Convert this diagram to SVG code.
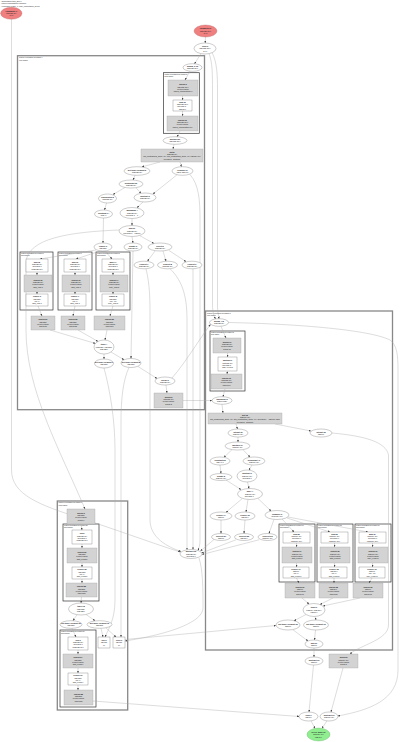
<svg xmlns="http://www.w3.org/2000/svg" width="400" height="742" viewBox="0 0 400 742">
<defs>
<marker id="a" markerUnits="userSpaceOnUse" markerWidth="2.4" markerHeight="2" refX="2.2" refY="1" orient="auto"><path d="M0,0 L2.4,1 L0,2 z" fill="#444"/></marker>
</defs>
<style>
text{font-family:"Liberation Sans",Arial,sans-serif;font-size:2px;fill:#222;text-anchor:middle}
.l{text-anchor:start;font-size:1.8px}
.s{font-size:1.7px}
.b{font-weight:bold}
.n{fill:#fff;stroke:#555;stroke-width:0.3}
.p{fill:#f08080;stroke:#a55;stroke-width:0.3}
.r{fill:#90ee90;stroke:#5a5;stroke-width:0.3}
.g{fill:#d3d3d3;stroke:#999;stroke-width:0.3}
.o{fill:none;stroke:#888;stroke-width:1.3}
.i{fill:none;stroke:#333;stroke-width:0.7}
.e path{fill:none;stroke:#aaa;stroke-width:0.4;marker-end:url(#a)}
</style>
<rect width="400" height="742" fill="#fff"/>
<g id="header">
<text class="l" x="1.5" y="2.2">Computation train_step.1</text>
<text class="l" x="1.5" y="4.4">Fused computations expanded</text>
<text class="l" x="1.5" y="6.6">HloModule cluster_0, entry_computation_layout</text>
</g>
<g id="clusters">
<g id="cluster_fusion4"><rect class="o" x="17.5" y="55.7" width="187" height="354"/><text class="l" x="19" y="58.4">Fused expression for fusion.4</text><text class="l" x="19" y="60.6">loop fusion</text></g>
<g id="cluster_reduce2"><rect class="i" x="163.5" y="72.7" width="35.8" height="60.6"/><text class="l s" x="164.5" y="75.2">Fused expression for reduce.2</text><text class="l s" x="164.5" y="77.3">input fusion</text></g>
<g id="cluster_reduce6"><rect class="i" x="20" y="252" width="33" height="58"/><text class="l s" x="21" y="254.3">Fused expression for reduce.6</text><text class="l s" x="21" y="256.4">input fusion</text></g>
<g id="cluster_reduce7"><rect class="i" x="58" y="252" width="34" height="58"/><text class="l s" x="59" y="254.3">Fused expression for reduce.7</text><text class="l s" x="59" y="256.4">input fusion</text></g>
<g id="cluster_reduce8"><rect class="i" x="96" y="252" width="34" height="58"/><text class="l s" x="97" y="254.3">Fused expression for reduce.8</text><text class="l s" x="97" y="256.4">input fusion</text></g>
<g id="cluster_fusion3"><rect class="o" x="205.5" y="311" width="187" height="339"/><text class="l" x="207" y="313.8">Fused expression for fusion.3</text><text class="l" x="207" y="316.1">loop fusion</text></g>
<g id="cluster_fusion11"><rect class="i" x="210" y="331" width="35" height="60"/><text class="l s" x="211" y="333.3">Fused expression for fusion.11</text><text class="l s" x="211" y="335.4">loop fusion</text></g>
<g id="cluster_reduce17"><rect class="i" x="279" y="524" width="36" height="58"/><text class="l s" x="280" y="526.3">Fused expression for reduce.17</text><text class="l s" x="280" y="528.4">input fusion</text></g>
<g id="cluster_reduce18"><rect class="i" x="317" y="524" width="36" height="58"/><text class="l s" x="318" y="526.3">Fused expression for reduce.18</text><text class="l s" x="318" y="528.4">input fusion</text></g>
<g id="cluster_reduce19"><rect class="i" x="355" y="524" width="36" height="58"/><text class="l s" x="356" y="526.3">Fused expression for reduce.19</text><text class="l s" x="356" y="528.4">input fusion</text></g>
<g id="cluster_fusion6"><rect class="o" x="57.3" y="501" width="70.4" height="209"/><text class="l" x="58.5" y="503.4">Fused expression for fusion.6</text><text class="l" x="58.5" y="505.6">loop fusion</text></g>
<g id="cluster_reduce20"><rect class="i" x="63" y="524" width="36" height="77"/><text class="l s" x="64" y="526.3">Fused expression for reduce.20</text><text class="l s" x="64" y="528.4">input fusion</text></g>
<g id="cluster_reduce24"><rect class="i" x="60" y="630" width="36" height="77"/><text class="l s" x="61" y="632.3">Fused expression for reduce.24</text><text class="l s" x="61" y="634.4">input fusion</text></g>
</g>
<g id="edges" class="e">
<path d="M205.5,37 L205.2,43"/>
<path d="M201,53.6 L194.5,63.8"/>
<path d="M209,53.5 C212.5,62 212.5,75 212.5,90 L212.5,305 C212.5,312 214,316 215.5,318.9"/>
<path d="M212,52.5 C217,62 217.5,75 217.5,90 L217.5,305 C217.5,312 218.5,315 219,318.7"/>
<path d="M190,71.2 L185,80"/>
<path d="M182.5,96 L182.5,100"/>
<path d="M182.5,111 L182.5,116"/>
<path d="M180,131 L177,136.8"/>
<path d="M174,144.3 L173,149"/>
<path d="M160,162 L142,166.9"/>
<path d="M180,162 L181.5,166.7"/>
<path d="M135,175.3 L133,180"/>
<path d="M125,187.5 L113,194.5"/>
<path d="M136,187.8 L141,193.3"/>
<path d="M177,174.8 L153,194"/>
<path d="M106.5,203 L104.5,210"/>
<path d="M143,202 L137,207.7"/>
<path d="M132,218.5 L132,225.5"/>
<path d="M103.5,218 L103,243"/>
<path d="M96,250 L40,259"/>
<path d="M100,251 L76,259"/>
<path d="M105,251 L112,259"/>
<path d="M132,236.5 L133,243"/>
<path d="M140,235.8 L154,243.5"/>
<path d="M133,251 L131,358.5"/>
<path d="M155,251 L147.5,261.2"/>
<path d="M163,251 L166,261.2"/>
<path d="M169,250.5 L186,261.6"/>
<path d="M37,272 L37,275"/><path d="M37,292 L37,294"/>
<path d="M75,272 L75,275"/><path d="M75,292 L75,294"/>
<path d="M113,272 L113,275"/><path d="M113,292 L113,294"/>
<path d="M38,306 L42,316"/>
<path d="M75,306 L73,316"/>
<path d="M113,306 L110,316"/>
<path d="M50,330 L95.5,343.5"/>
<path d="M78,330 L98,341.5"/>
<path d="M107,330 L105,340"/>
<path d="M104,354 L104,359"/>
<path d="M111,352 L124,359.8"/>
<path d="M138,366.5 L157,378.5"/>
<path d="M166,385 L167,393"/>
<path d="M183,400.5 L212,400.5"/>
<path d="M172,378 C186,362 200,338 210.5,324.5"/>
<path d="M146,268.8 C150,285 150,300 150,320 L150,520 C150,538 168,547 181,551.5"/>
<path d="M170,268.8 C184,282 187,300 187,320 L187,549.7"/>
<path d="M193,268.8 C193,285 193,300 193,320 L193,549.6"/>
<path d="M190,174.5 C199,185 200,200 200,220 L200,540 C200,545 199,548 198,550.5"/>
<path d="M119,230 C70,232 28,238 26,262 L26,330 C26,390 60,450 85,509"/>
<path d="M11.5,19.3 L11.5,470 C11.5,495 40,505 80,518 C120,531 155,544 180.3,552"/>
<path d="M199,558 C203,570 203,590 203,608 C203,622 170,634 125,641"/>
<path d="M104,368 C110,390 115,420 115,450 L115,600 C115,620 108,630 105,637"/>
<path d="M129,367.5 C123,380 121,400 121,420 L121,637"/>
<path d="M81,524 L82,530"/>
<path d="M82,544 L82,548"/>
<path d="M82,563 L82,567"/>
<path d="M82,579 L82,583"/>
<path d="M81.5,597 L81,603"/>
<path d="M77,614.7 L73,620.7"/>
<path d="M86,614.5 L95,620.7"/>
<path d="M72,628.3 L76,637"/>
<path d="M78,650 L78,654"/>
<path d="M78,668 L78,673"/>
<path d="M78,685 L78,690"/>
<path d="M101,628.3 L103,637"/>
<path d="M106,628 L116,637"/>
<path d="M93,701 L299.2,716.5"/>
<path d="M125,639.5 L276,625.5"/>
<path d="M221,326.3 L226,338"/>
<path d="M227.5,353 L227.5,357"/>
<path d="M227.5,371 L227,374"/>
<path d="M225,389 L223,396.7"/>
<path d="M222,404.3 L223,413"/>
<path d="M236,424 L237.5,429"/>
<path d="M275,424 L311,431"/>
<path d="M238,437 L238,442"/>
<path d="M232,449.7 L224,457.2"/>
<path d="M243,449.7 L250,457.1"/>
<path d="M220,465 L221,473.5"/>
<path d="M252,465 L249,470.2"/>
<path d="M226,480 L241,489.6"/>
<path d="M247.5,482 L249,488.5"/>
<path d="M242,498.8 L226,512.3"/>
<path d="M248,499.5 L246,512"/>
<path d="M258,498.5 L271,511"/>
<path d="M221,520 L221,533.5"/>
<path d="M245,520 L244,533.5"/>
<path d="M274,519.3 L269,533.5"/>
<path d="M282,519 L294,532"/>
<path d="M287,518 L330,532"/>
<path d="M288,517 L368,532"/>
<path d="M214,539.5 L200.5,551"/>
<path d="M236,539.8 L201.5,553"/>
<path d="M259,539.8 L202,554.5"/>
<path d="M296.5,543 L296.5,547"/><path d="M296.5,563 L296.5,567"/><path d="M296.5,578 L299,583"/>
<path d="M334.5,543 L334.5,547"/><path d="M334.5,563 L334.5,567"/><path d="M334,578 L334,583"/>
<path d="M372.5,543 L372.5,547"/><path d="M372.5,563 L372.5,567"/><path d="M372,578 L369,583"/>
<path d="M302,598 L309,604"/>
<path d="M333,598 L320,604.5"/>
<path d="M360,598 L323,606"/>
<path d="M306,614.5 L294,620.8"/>
<path d="M315,616.5 L316,620"/>
<path d="M293,629.8 L308,641"/>
<path d="M315.5,630 L314.5,640"/>
<path d="M314,648 L314,657"/>
<path d="M313.5,665 L309,712"/>
<path d="M343,668 L331,712"/>
<path d="M311,720.8 L315,728.5"/>
<path d="M327,720.8 L322,728.3"/>
<path d="M228.5,322.5 C300,324 370,330 390,340 C397,345 398,355 398,370 L398,670 C398,700 370,710 337.8,716"/>
<path d="M332,433 C365,436 386,442 388.5,455 L388.5,625 C388.5,640 360,645 350,654"/>
</g>
<g id="nodes">
<g id="p0"><ellipse class="p" cx="11.3" cy="13.3" rx="10.7" ry="6"/><text class="b" x="11.3" y="11.6">Parameter 1</text><text x="11.3" y="14">f32[128,10]</text><text x="11.3" y="16.4">{1,0}</text></g>
<g id="p1"><ellipse class="p" cx="205.5" cy="31" rx="11.5" ry="6"/><text class="b" x="205.5" y="29.3">Parameter 0</text><text x="205.5" y="31.7">f32[128,784]</text><text x="205.5" y="34.1">{1,0}</text></g>
<g id="n1"><ellipse class="n" cx="205" cy="48.5" rx="11" ry="5.5"/><text class="b" x="205" y="46.8">copy.3</text><text x="205" y="49.2">f32[128,784]</text><text x="205" y="51.6">{1,0}</text></g>
<g id="n2"><ellipse class="n" cx="192.5" cy="67.5" rx="9.5" ry="3.8"/><text class="b" x="192.5" y="67">param_0.12</text><text x="192.5" y="69.4">f32[128,784]</text></g>
<g id="g1"><rect class="g" x="168" y="80" width="30" height="16"/><text class="b" x="183" y="85.2">fusion.9</text><text x="183" y="87.5">f32[128,784]</text><text x="183" y="89.8">kLoop fusion</text><text x="183" y="92.1">fused_computation.9</text></g>
<g id="w1"><rect class="n" x="173" y="100" width="19" height="11"/><text class="b" x="182.5" y="102.7">add.15</text><text x="182.5" y="105">f32[128,784]</text><text x="182.5" y="107.3">operand 1 =</text><text x="182.5" y="109.6">f32[784]</text></g>
<g id="g2"><rect class="g" x="167" y="116" width="31" height="15"/><text class="b" x="182.5" y="120.7">fusion.10</text><text x="182.5" y="123">f32[128,784]</text><text x="182.5" y="125.3">kLoop fusion</text><text x="182.5" y="127.6">fused_computation.10</text></g>
<g id="n3"><ellipse class="n" cx="175" cy="140.5" rx="12" ry="3.8"/><text class="b" x="175" y="140">multiply.21</text><text x="175" y="142.4">f32[128,784]</text></g>
<g id="g3"><rect class="g" x="141" y="149" width="62" height="13"/><text class="b" x="172" y="152.7">dot.8</text><text x="172" y="155">f32[128,10]</text><text x="172" y="157.3">lhs_contracting_dims={1}, rhs_contracting_dims={0}, f32[784,10]</text><text x="172" y="159.6">precision={default}</text></g>
<g id="n4"><ellipse class="n" cx="137" cy="171" rx="13" ry="4.3"/><text class="b" x="137" y="170.5">get-tuple-element.5</text><text x="137" y="172.9">f32[128,10]</text></g>
<g id="n5"><ellipse class="n" cx="182.5" cy="171" rx="10.5" ry="4.3"/><text class="b" x="182.5" y="170.5">reshape.11</text><text x="182.5" y="172.9">f32[1,128,10]</text></g>
<g id="n6"><ellipse class="n" cx="131" cy="184" rx="12" ry="4"/><text class="b" x="131" y="183.5">broadcast.30</text><text x="131" y="185.9">f32[128,10]</text></g>
<g id="n7"><ellipse class="n" cx="107.5" cy="198.5" rx="9" ry="4.5"/><text class="b" x="107.5" y="198">exponential.2</text><text x="107.5" y="200.4">f32[128,10]</text></g>
<g id="n8"><ellipse class="n" cx="145" cy="197.5" rx="11" ry="4.5"/><text class="b" x="145" y="197">subtract.6</text><text x="145" y="199.4">f32[128,10]</text></g>
<g id="n9"><ellipse class="n" cx="103.5" cy="214" rx="9" ry="4"/><text class="b" x="103.5" y="213.5">constant.14</text><text x="103.5" y="215.9">f32[] 0</text></g>
<g id="n10"><ellipse class="n" cx="132" cy="213" rx="12" ry="5.5"/><text class="b" x="132" y="211.3">maximum.4</text><text x="132" y="213.7">f32[128,10]</text><text x="132" y="216.1">operand 1 = 0</text></g>
<g id="n11"><ellipse class="n" cx="132" cy="231" rx="13" ry="5.5"/><text class="b" x="132" y="229.3">add.31</text><text x="132" y="231.7">f32[128,10]</text><text x="132" y="234.1">operand 1 = f32[10]</text></g>
<g id="n12"><ellipse class="n" cx="103" cy="247" rx="9" ry="4"/><text class="b" x="103" y="246.5">reduce.9</text><text x="103" y="248.9">f32[128]</text></g>
<g id="n13"><ellipse class="n" cx="133" cy="247" rx="9" ry="4"/><text class="b" x="133" y="246.5">negate.3</text><text x="133" y="248.9">f32[128,10]</text></g>
<g id="n14"><ellipse class="n" cx="160" cy="247" rx="12" ry="4"/><text class="b" x="160" y="246.5">select.2</text><text x="160" y="248.9">f32[128,10]</text></g>
<g id="n15"><ellipse class="n" cx="144" cy="265" rx="10" ry="3.8"/><text class="b" x="144" y="264.5">convert.7</text><text x="144" y="266.9">f32[128,10]</text></g>
<g id="n16"><ellipse class="n" cx="167.5" cy="265" rx="10" ry="3.8"/><text class="b" x="167.5" y="264.5">convert.8</text><text x="167.5" y="266.9">f32[128,10]</text></g>
<g id="n17"><ellipse class="n" cx="192" cy="265" rx="10" ry="3.8"/><text class="b" x="192" y="264.5">convert.9</text><text x="192" y="266.9">f32[128,10]</text></g>
<g id="w6a"><rect class="n" x="26" y="259" width="22" height="13"/><text class="b" x="37" y="262.7">add.12</text><text x="37" y="265">f32[128,10]</text><text x="37" y="267.3">operand 0</text><text x="37" y="269.6">(f32[128,10])</text></g>
<g id="g6a"><rect class="g" x="24" y="275" width="28" height="17"/><text class="b" x="38" y="280.7">fusion.12</text><text x="38" y="283">f32[128,10]</text><text x="38" y="285.3">kInput fusion</text><text x="38" y="287.6">add_F32.6</text></g>
<g id="w6b"><rect class="n" x="26" y="294" width="22" height="12"/><text class="b" x="37" y="297.2">reduce.6</text><text x="37" y="299.5">f32[128]</text><text x="37" y="301.8">init: 0</text><text x="37" y="304.1">add_F32.6</text></g>
<g id="w7a"><rect class="n" x="64" y="259" width="22" height="13"/><text class="b" x="75" y="262.7">add.13</text><text x="75" y="265">f32[128,10]</text><text x="75" y="267.3">operand 0</text><text x="75" y="269.6">(f32[128,10])</text></g>
<g id="g7a"><rect class="g" x="62" y="275" width="28" height="17"/><text class="b" x="76" y="280.7">fusion.13</text><text x="76" y="283">f32[128,10]</text><text x="76" y="285.3">kInput fusion</text><text x="76" y="287.6">add_F32.7</text></g>
<g id="w7b"><rect class="n" x="64" y="294" width="22" height="12"/><text class="b" x="75" y="297.2">reduce.7</text><text x="75" y="299.5">f32[128]</text><text x="75" y="301.8">init: 0</text><text x="75" y="304.1">add_F32.7</text></g>
<g id="w8a"><rect class="n" x="102" y="259" width="22" height="13"/><text class="b" x="113" y="262.7">max.14</text><text x="113" y="265">f32[128,10]</text><text x="113" y="267.3">operand 0</text><text x="113" y="269.6">(f32[128,10])</text></g>
<g id="g8a"><rect class="g" x="100" y="275" width="28" height="17"/><text class="b" x="114" y="280.7">fusion.14</text><text x="114" y="283">f32[128,10]</text><text x="114" y="285.3">kInput fusion</text><text x="114" y="287.6">max_F32.8</text></g>
<g id="w8b"><rect class="n" x="102" y="294" width="22" height="12"/><text class="b" x="113" y="297.2">reduce.8</text><text x="113" y="299.5">f32[128]</text><text x="113" y="301.8">init: -inf</text><text x="113" y="304.1">max_F32.8</text></g>
<g id="g4"><rect class="g" x="31" y="316" width="24" height="14"/><text class="b" x="43" y="320.2">fusion.21</text><text x="43" y="322.5">f32[128]</text><text x="43" y="324.8">kLoop fusion</text><text x="43" y="327.1">fused.21</text></g>
<g id="g5"><rect class="g" x="61" y="316" width="24" height="14"/><text class="b" x="73" y="320.2">fusion.22</text><text x="73" y="322.5">f32[128]</text><text x="73" y="324.8">kLoop fusion</text><text x="73" y="327.1">fused.22</text></g>
<g id="g6"><rect class="g" x="94" y="316" width="31" height="14"/><text class="b" x="109.5" y="320.2">fusion.23</text><text x="109.5" y="322.5">f32[128]</text><text x="109.5" y="324.8">kLoop fusion</text><text x="109.5" y="327.1">fused.23</text></g>
<g id="n18"><ellipse class="n" cx="104" cy="347" rx="10" ry="7"/><text class="b" x="104" y="345.3">tuple.4</text><text x="104" y="347.7">(f32[128], f32[128],</text><text x="104" y="350.1">f32[128])</text></g>
<g id="n19"><ellipse class="n" cx="104" cy="363.5" rx="9.5" ry="4.5"/><text class="b" x="104" y="363">get-tuple-element.7</text><text x="104" y="365.4">f32[128]</text></g>
<g id="n20"><ellipse class="n" cx="131" cy="363" rx="10" ry="4.5"/><text class="b" x="131" y="362.5">get-tuple-element.8</text><text x="131" y="364.9">f32[128]</text></g>
<g id="n21"><ellipse class="n" cx="165" cy="381" rx="10" ry="4"/><text class="b" x="165" y="380.5">divide.3</text><text x="165" y="382.9">f32[128,10]</text></g>
<g id="g7"><rect class="g" x="154" y="393" width="29" height="15"/><text class="b" x="168.5" y="397.7">fusion.2</text><text x="168.5" y="400">f32[128,10]</text><text x="168.5" y="402.3">kLoop fusion</text><text x="168.5" y="404.6">fused.2</text></g>
<g id="n22"><ellipse class="n" cx="219" cy="322.5" rx="9.5" ry="3.8"/><text class="b" x="219" y="322">param_1.5</text><text x="219" y="324.4">f32[128,10]</text></g>
<g id="g8"><rect class="g" x="213" y="338" width="28" height="15"/><text class="b" x="227" y="342.7">fusion.11</text><text x="227" y="345">f32[128,10]</text><text x="227" y="347.3">kLoop fusion</text><text x="227" y="349.6">fused.11</text></g>
<g id="w2"><rect class="n" x="218" y="357" width="19" height="14"/><text class="b" x="227.5" y="361.2">multiply.9</text><text x="227.5" y="363.5">f32[128,10]</text><text x="227.5" y="365.8">operand 1 =</text><text x="227.5" y="368.1">f32[] 0.0078</text></g>
<g id="g9"><rect class="g" x="211" y="374" width="31" height="15"/><text class="b" x="226.5" y="378.7">fusion.13</text><text x="226.5" y="381">f32[128,10]</text><text x="226.5" y="383.3">kLoop fusion</text><text x="226.5" y="385.6">fused.13</text></g>
<g id="n23"><ellipse class="n" cx="222" cy="400.5" rx="10" ry="3.8"/><text class="b" x="222" y="400">transpose.2</text><text x="222" y="402.4">f32[10,128]</text></g>
<g id="g10"><rect class="g" x="208" y="413" width="74" height="11"/><text class="b" x="245" y="415.7">dot.12</text><text x="245" y="418">f32[784,10]</text><text x="245" y="420.3">lhs_contracting_dims={1}, rhs_contracting_dims={0}, operand 0 = f32[784,128]</text><text x="245" y="422.6">precision={default}</text></g>
<g id="n24"><ellipse class="n" cx="238" cy="433" rx="10" ry="4"/><text class="b" x="238" y="432.5">bitcast.31</text><text x="238" y="434.9">f32[784,10]</text></g>
<g id="n25"><ellipse class="n" cx="321" cy="433" rx="11" ry="4"/><text class="b" x="321" y="432.5">bitcast.33</text><text x="321" y="434.9">f32[10]</text></g>
<g id="n26"><ellipse class="n" cx="237.5" cy="446" rx="12.5" ry="4"/><text class="b" x="237.5" y="445.5">multiply.17</text><text x="237.5" y="447.9">f32[784,10]</text></g>
<g id="n27"><ellipse class="n" cx="220" cy="461" rx="10" ry="4"/><text class="b" x="220" y="460.5">constant.22</text><text x="220" y="462.9">f32[] 0.1</text></g>
<g id="n28"><ellipse class="n" cx="254" cy="461" rx="11" ry="4"/><text class="b" x="254" y="460.5">broadcast.41</text><text x="254" y="462.9">f32[784,10]</text></g>
<g id="n29"><ellipse class="n" cx="221" cy="477" rx="11" ry="3.5"/><text class="b" x="221" y="476.5">negate.5</text><text x="221" y="478.9">f32[784,10]</text></g>
<g id="n30"><ellipse class="n" cx="247" cy="476" rx="10" ry="6"/><text class="b" x="247" y="474.3">subtract.9</text><text x="247" y="476.7">f32[784,10]</text><text x="247" y="479.1">operand 0</text></g>
<g id="n31"><ellipse class="n" cx="250" cy="494" rx="12.5" ry="5.5"/><text class="b" x="250" y="492.3">add.44</text><text x="250" y="494.7">f32[784,10]</text><text x="250" y="497.1">operand 1 =</text></g>
<g id="n32"><ellipse class="n" cx="221" cy="516" rx="11" ry="4"/><text class="b" x="221" y="515.5">reduce.14</text><text x="221" y="517.9">f32[10]</text></g>
<g id="n33"><ellipse class="n" cx="245" cy="516" rx="10" ry="4"/><text class="b" x="245" y="515.5">reduce.15</text><text x="245" y="517.9">f32[784]</text></g>
<g id="n34"><ellipse class="n" cx="277" cy="515" rx="12" ry="4.5"/><text class="b" x="277" y="514.5">compare.3</text><text x="277" y="516.9">pred[784,10]</text></g>
<g id="n35"><ellipse class="n" cx="221" cy="537" rx="9.5" ry="3.5"/><text class="b" x="221" y="536.5">convert.21</text><text x="221" y="538.9">f32[10]</text></g>
<g id="n36"><ellipse class="n" cx="244" cy="537" rx="9.5" ry="3.5"/><text class="b" x="244" y="536.5">convert.22</text><text x="244" y="538.9">f32[784]</text></g>
<g id="n37"><ellipse class="n" cx="267.5" cy="537" rx="9.5" ry="3.5"/><text class="b" x="267.5" y="536.5">convert.23</text><text x="267.5" y="538.9">f32[784,10]</text></g>
<g id="w17a"><rect class="n" x="283" y="532" width="27" height="11"/><text class="b" x="296.5" y="534.7">add.52</text><text x="296.5" y="537">f32[784,10]</text><text x="296.5" y="539.3">operand 0</text><text x="296.5" y="541.6">(f32[784,10])</text></g>
<g id="g17a"><rect class="g" x="282" y="547" width="30" height="16"/><text class="b" x="297" y="552.2">fusion.17</text><text x="297" y="554.5">f32[784,10]</text><text x="297" y="556.8">kInput fusion</text><text x="297" y="559.1">add_F32.17</text></g>
<g id="w17b"><rect class="n" x="283" y="567" width="26" height="11"/><text class="b" x="296" y="569.7">reduce.17</text><text x="296" y="572">f32[10]</text><text x="296" y="574.3">init: 0</text><text x="296" y="576.6">add_F32.17</text></g>
<g id="w18a"><rect class="n" x="321" y="532" width="27" height="11"/><text class="b" x="334.5" y="534.7">add.53</text><text x="334.5" y="537">f32[784,10]</text><text x="334.5" y="539.3">operand 0</text><text x="334.5" y="541.6">(f32[784,10])</text></g>
<g id="g18a"><rect class="g" x="320" y="547" width="30" height="16"/><text class="b" x="335" y="552.2">fusion.18</text><text x="335" y="554.5">f32[784,10]</text><text x="335" y="556.8">kInput fusion</text><text x="335" y="559.1">add_F32.18</text></g>
<g id="w18b"><rect class="n" x="321" y="567" width="26" height="11"/><text class="b" x="334" y="569.7">reduce.18</text><text x="334" y="572">f32[784]</text><text x="334" y="574.3">init: 0</text><text x="334" y="576.6">add_F32.18</text></g>
<g id="w19a"><rect class="n" x="359" y="532" width="27" height="11"/><text class="b" x="372.5" y="534.7">max.54</text><text x="372.5" y="537">f32[784,10]</text><text x="372.5" y="539.3">operand 0</text><text x="372.5" y="541.6">(f32[784,10])</text></g>
<g id="g19a"><rect class="g" x="358" y="547" width="30" height="16"/><text class="b" x="373" y="552.2">fusion.19</text><text x="373" y="554.5">f32[784,10]</text><text x="373" y="556.8">kInput fusion</text><text x="373" y="559.1">max_F32.19</text></g>
<g id="w19b"><rect class="n" x="359" y="567" width="26" height="11"/><text class="b" x="372" y="569.7">reduce.19</text><text x="372" y="572">f32[10]</text><text x="372" y="574.3">init: -inf</text><text x="372" y="576.6">max_F32.19</text></g>
<g id="g11"><rect class="g" x="285" y="583" width="30" height="15"/><text class="b" x="300" y="587.7">fusion.31</text><text x="300" y="590">f32[10]</text><text x="300" y="592.3">kLoop fusion</text><text x="300" y="594.6">fused.31</text></g>
<g id="g12"><rect class="g" x="319" y="583" width="29" height="15"/><text class="b" x="333.5" y="587.7">fusion.32</text><text x="333.5" y="590">f32[784]</text><text x="333.5" y="592.3">kLoop fusion</text><text x="333.5" y="594.6">fused.32</text></g>
<g id="g13"><rect class="g" x="353" y="583" width="30" height="15"/><text class="b" x="368" y="587.7">fusion.33</text><text x="368" y="590">f32[10]</text><text x="368" y="592.3">kLoop fusion</text><text x="368" y="594.6">fused.33</text></g>
<g id="n38"><ellipse class="n" cx="314" cy="610" rx="11" ry="6.5"/><text class="b" x="314" y="608.3">tuple.9</text><text x="314" y="610.7">(f32[10], f32[784],</text><text x="314" y="613.1">f32[10])</text></g>
<g id="n39"><ellipse class="n" cx="288" cy="625" rx="12" ry="5"/><text class="b" x="288" y="624.5">get-tuple-element.12</text><text x="288" y="626.9">f32[10]</text></g>
<g id="n40"><ellipse class="n" cx="316" cy="625" rx="12.5" ry="5"/><text class="b" x="316" y="624.5">get-tuple-element.13</text><text x="316" y="626.9">f32[10]</text></g>
<g id="n41"><ellipse class="n" cx="314" cy="644" rx="9" ry="4"/><text class="b" x="314" y="643.5">add.61</text><text x="314" y="645.9">f32[10]</text></g>
<g id="n42"><ellipse class="n" cx="314" cy="661" rx="9" ry="4"/><text class="b" x="314" y="660.5">subtract.12</text><text x="314" y="662.9">f32[10]</text></g>
<g id="g14"><rect class="g" x="329" y="654" width="29" height="14"/><text class="b" x="343.5" y="658.2">fusion.5</text><text x="343.5" y="660.5">f32[784,10]</text><text x="343.5" y="662.8">kLoop fusion</text><text x="343.5" y="665.1">fused.5</text></g>
<g id="n43"><ellipse class="n" cx="308.5" cy="716.5" rx="9.5" ry="4.5"/><text class="b" x="308.5" y="716">copy.7</text><text x="308.5" y="718.4">f32[10]</text></g>
<g id="n44"><ellipse class="n" cx="329" cy="716.5" rx="9" ry="4.5"/><text class="b" x="329" y="716">subtract.13</text><text x="329" y="718.4">f32[784,10]</text></g>
<g id="n45"><ellipse class="r" cx="318.5" cy="734.5" rx="11.5" ry="6.5"/><text class="b" x="318.5" y="732.8">ROOT tuple.10</text><text x="318.5" y="735.2">(f32[784,10],</text><text x="318.5" y="737.6">f32[10])</text></g>
<g id="g15"><rect class="g" x="67" y="509" width="28" height="15"/><text class="b" x="81" y="513.7">fusion.6</text><text x="81" y="516">f32[128]</text><text x="81" y="518.3">kLoop fusion</text><text x="81" y="520.6">fused.6</text></g>
<g id="w3"><rect class="n" x="72" y="530" width="20" height="14"/><text class="b" x="82" y="534.2">log.2</text><text x="82" y="536.5">f32[128,10]</text><text x="82" y="538.8">operand 0</text><text x="82" y="541.1">(f32[128,10])</text></g>
<g id="g16"><rect class="g" x="67" y="548" width="30" height="15"/><text class="b" x="82" y="552.7">fusion.20</text><text x="82" y="555">f32[128]</text><text x="82" y="557.3">kInput fusion</text><text x="82" y="559.6">add_F32.20</text></g>
<g id="w4"><rect class="n" x="72" y="567" width="20" height="12"/><text class="b" x="82" y="570.2">reduce.20</text><text x="82" y="572.5">f32[128]</text><text x="82" y="574.8">init: 0</text><text x="82" y="577.1">add_F32.20</text></g>
<g id="g17"><rect class="g" x="66" y="583" width="31" height="14"/><text class="b" x="81.5" y="587.2">fusion.22</text><text x="81.5" y="589.5">f32[128]</text><text x="81.5" y="591.8">kLoop fusion</text><text x="81.5" y="594.1">fused.22</text></g>
<g id="n46"><ellipse class="n" cx="81" cy="609" rx="12.5" ry="6"/><text class="b" x="81" y="607.3">tuple.12</text><text x="81" y="609.7">(f32[128],</text><text x="81" y="612.1">f32[128])</text></g>
<g id="n47"><ellipse class="n" cx="71" cy="624.5" rx="11" ry="3.8"/><text class="b" x="71" y="624">get-tuple-element.15</text><text x="71" y="626.4">f32[128]</text></g>
<g id="n48"><ellipse class="n" cx="99.5" cy="624.5" rx="12.5" ry="3.8"/><text class="b" x="99.5" y="624">get-tuple-element.16</text><text x="99.5" y="626.4">f32[128]</text></g>
<g id="w5"><rect class="n" x="68" y="637" width="20" height="13"/><text class="b" x="78" y="640.7">exp.3</text><text x="78" y="643">f32[128,10]</text><text x="78" y="645.3">operand 0</text><text x="78" y="647.6">(f32[128,10])</text></g>
<g id="g18"><rect class="g" x="63" y="654" width="30" height="14"/><text class="b" x="78" y="658.2">fusion.24</text><text x="78" y="660.5">f32[128]</text><text x="78" y="662.8">kInput fusion</text><text x="78" y="665.1">add_F32.24</text></g>
<g id="w6"><rect class="n" x="68" y="673" width="20" height="12"/><text class="b" x="78" y="676.2">reduce.24</text><text x="78" y="678.5">f32[128]</text><text x="78" y="680.8">init: 0</text><text x="78" y="683.1">add_F32.24</text></g>
<g id="g19"><rect class="g" x="64" y="690" width="29" height="15"/><text class="b" x="78.5" y="694.7">fusion.25</text><text x="78.5" y="697">f32[128]</text><text x="78.5" y="699.3">kLoop fusion</text><text x="78.5" y="701.6">fused.25</text></g>
<g id="w7"><rect class="n" x="98" y="637" width="12" height="11"/><text class="b s" x="104" y="640.9">copy.9</text><text class="s" x="104" y="643.2">f32[128]</text><text class="s" x="104" y="645.5">{0}</text></g>
<g id="w8"><rect class="n" x="113" y="637" width="12" height="11"/><text class="b s" x="119" y="640.9">copy.10</text><text class="s" x="119" y="643.2">f32[128]</text><text class="s" x="119" y="645.5">{0}</text></g>
<g id="n49"><ellipse class="n" cx="191" cy="554" rx="11" ry="4.5"/><text class="b" x="191" y="552.3">multiply.33</text><text x="191" y="554.7">f32[128,10]</text><text x="191" y="557.1">operand 0</text></g>
</g>
</svg>
